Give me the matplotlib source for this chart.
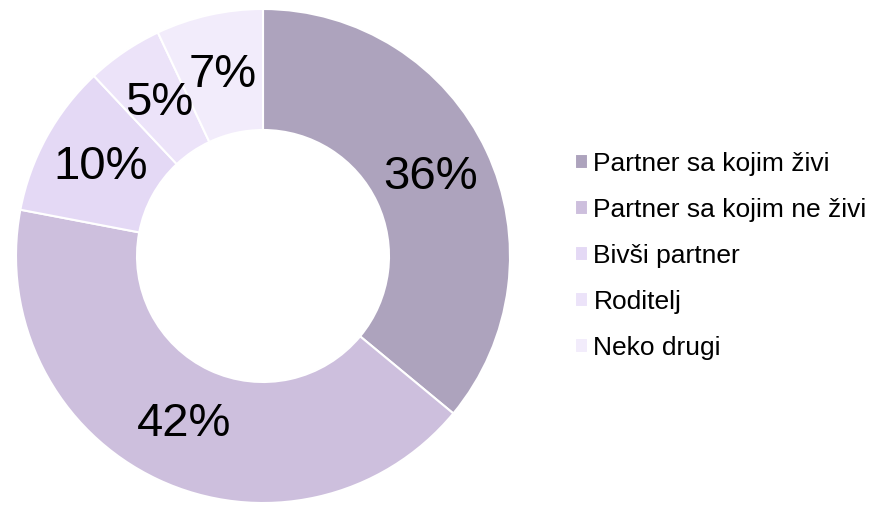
import matplotlib.pyplot as plt

plt.rcParams['font.family'] = ['Liberation Sans', 'DejaVu Sans']

labels = ['Partner sa kojim živi', 'Partner sa kojim ne živi', 'Bivši partner',
          'Roditelj', 'Neko drugi']
shares = [36, 42, 10, 5, 7]
colors = ['#ada3bd', '#cdbfdd', '#e4d9f5', '#ece3f9', '#f2ecfb']

fig = plt.figure(figsize=(8.72, 5.08), dpi=100)
ax = fig.add_axes([13 / 872, 2 / 508, 500 / 872, 500 / 508])

wedges, texts, autotexts = ax.pie(
    shares, colors=colors, startangle=90, counterclock=False,
    radius=0.988, autopct='%d%%', pctdistance=0.75,
    wedgeprops=dict(width=0.484, edgecolor='white', linewidth=1.5),
    textprops=dict(fontsize=34, color='black'))
ax.set_xlim(-1, 1)
ax.set_ylim(-1, 1)
ax.set_aspect('equal')

fig.legend(wedges, labels, loc='upper left', bbox_to_anchor=(575 / 872, 1 - 152 / 508),
           frameon=False, fontsize=19, handlelength=0.5, handleheight=0.5,
           handletextpad=0.2, labelspacing=0.83, borderpad=0, borderaxespad=0)

fig.savefig('out.png', dpi=100)
